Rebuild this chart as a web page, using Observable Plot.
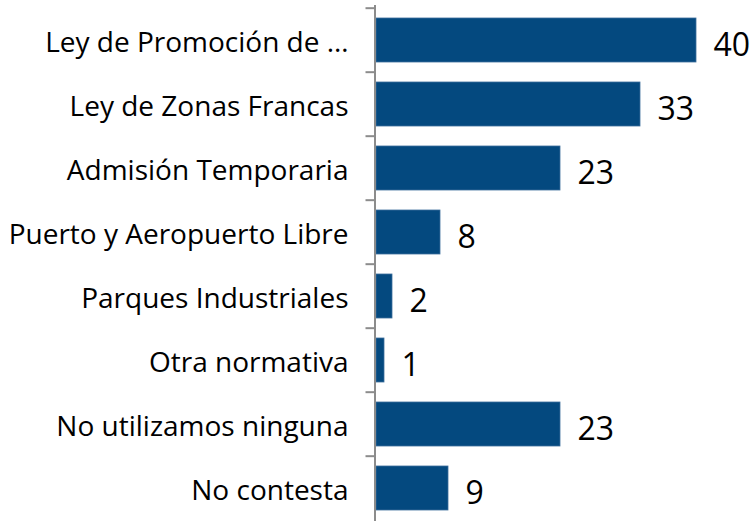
<!DOCTYPE html>
<html>
<head>
<meta charset="utf-8">
<script src="https://cdn.jsdelivr.net/npm/d3@7"></script>
<script src="https://cdn.jsdelivr.net/npm/@observablehq/plot@0.6"></script>
<style>
  html, body { margin: 0; padding: 0; background: #fff; }
</style>
</head>
<body>
<div id="chart"></div>
<script>
const categories = [
  "Ley de Promoción de …",
  "Ley de Zonas Francas",
  "Admisión Temporaria",
  "Puerto y Aeropuerto Libre",
  "Parques Industriales",
  "Otra normativa",
  "No utilizamos ninguna",
  "No contesta"
];
const values = [40, 33, 23, 8, 2, 1, 23, 9];

const data = categories.map((c, i) => ({category: c, value: values[i]}));

const W = 753, H = 521;
const plotTop = 5, plotBottom = 522;
const step = (plotBottom - plotTop) / categories.length;
const font = "'Open Sans', Lato, sans-serif";

const chart = Plot.plot({
  width: W,
  height: H,
  marginLeft: 376,
  marginRight: 57,
  marginTop: plotTop,
  marginBottom: H - plotBottom,
  style: {fontFamily: font, background: "#fff", overflow: "visible"},
  x: {domain: [0, 40], axis: null},
  y: {domain: categories, paddingInner: 0.32, paddingOuter: 0.16, align: 0.5, axis: null, label: null},
  marks: [
    Plot.barX(data, {x: "value", y: "category", fill: "#04497f", stroke: "#3d6e9c", strokeWidth: 0.8}),
    Plot.ruleX([0], {stroke: "#8c8c8c", strokeWidth: 2, dx: -1.5}),
    Plot.axisY({
      anchor: "left",
      tickSize: 9,
      tickFormat: () => "",
      stroke: "#8c8c8c",
      strokeWidth: 2,
      dx: -1.5,
      dy: -step / 2,
      label: null
    }),
    Plot.axisY({
      anchor: "left",
      tickSize: 0,
      tickPadding: 28,
      fontSize: 28,
      fill: "#000",
      dy: 3,
      label: null
    }),
    Plot.text(data, {
      x: "value",
      y: "category",
      text: d => String(d.value),
      textAnchor: "start",
      dx: 17,
      dy: 5,
      fontSize: 32,
      fill: "#000"
    })
  ]
});

document.getElementById("chart").appendChild(chart);
</script>
</body>
</html>
